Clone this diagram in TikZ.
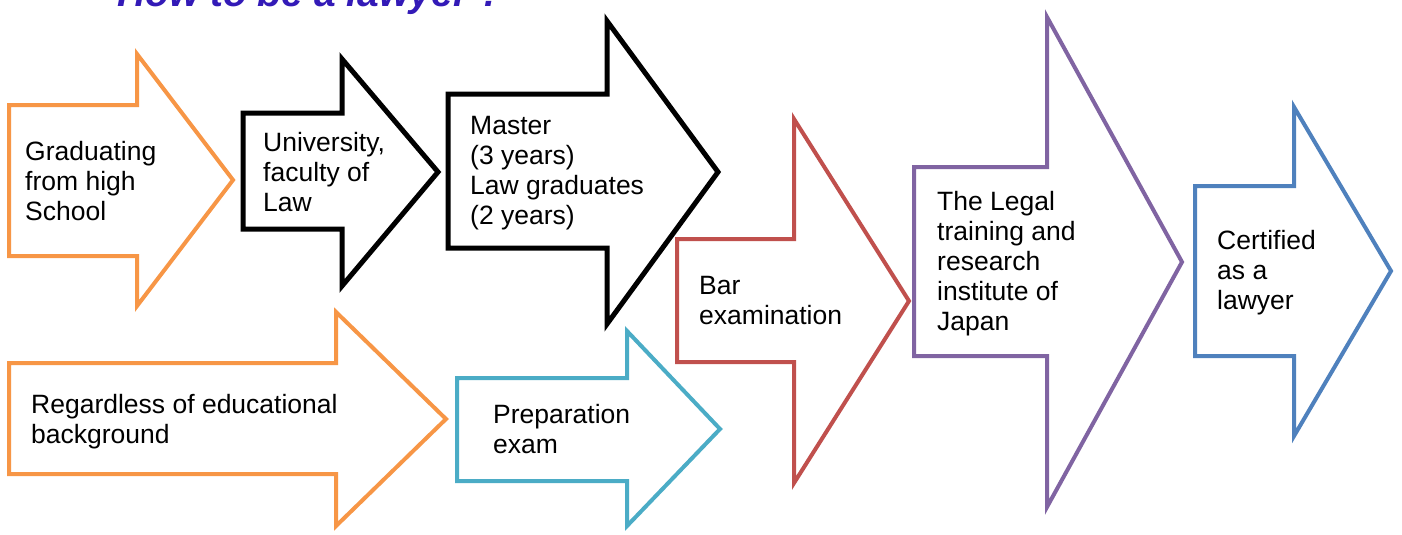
\documentclass[tikz,border=0pt]{standalone}
\usepackage{fontspec}
\setmainfont{Liberation Sans}
\definecolor{cOrange}{HTML}{F79646}
\definecolor{cRed}{HTML}{C0504D}
\definecolor{cPurple}{HTML}{8064A2}
\definecolor{cBlue}{HTML}{4F81BD}
\definecolor{cCyan}{HTML}{4BACC6}
\definecolor{cTitle}{RGB}{51,26,183}
\newcommand{\blkarrow}[9]{\draw[shp,#1] (#2,#3) -- (#5,#3) -- (#5,#6) -- (#8,#9) -- (#5,#7) -- (#5,#4) -- (#2,#4) -- cycle;}
\begin{document}
\begin{tikzpicture}[x=1pt,y=-1pt,
  shp/.style={line width=4pt, fill=white, line join=miter},
  lbl/.style={anchor=base west, inner sep=0pt, align=left, font=\fontsize{26.5}{30}\selectfont}]
\useasboundingbox (0,0) rectangle (1402,535);
\clip (0,0) rectangle (1402,535);
\node[anchor=base west, inner sep=0pt, text=cTitle, font=\fontsize{39}{46}\selectfont\bfseries\itshape] (title) at (117,6.5) {How to be a lawyer ?};
% upper row
\blkarrow{draw=cOrange}{9}{105}{256}{137}{54}{306}{233}{180}
\blkarrow{draw=black,line width=5pt}{243}{113}{229}{342}{59}{286}{438}{172}
\blkarrow{draw=black,line width=5pt}{448}{94}{248}{607}{21}{324}{718}{172}
% lower row
\blkarrow{draw=cOrange}{9}{363}{474}{336}{312}{526}{446}{419}
\blkarrow{draw=cCyan}{457}{378}{481}{627}{331}{526}{720}{429}
% right part
\blkarrow{draw=cRed}{677}{239}{362}{794}{119}{483}{909}{301}
\blkarrow{draw=cPurple}{914}{167}{356}{1047}{17}{507}{1182}{262}
\blkarrow{draw=cBlue}{1195}{186}{356}{1294}{107}{436}{1391}{271}
% labels (anchored at the baseline of the last line)
\node[lbl] (t1) at (25,220) {Graduating\\from high\\School};
\node[lbl] (t2) at (263,211) {University,\\faculty of\\Law};
\node[lbl] (t3) at (470,224) {Master\\(3 years)\\Law graduates\\(2 years)};
\node[lbl] (t4) at (699,324) {Bar\\examination};
\node[lbl] (t5) at (937,330) {The Legal\\training and\\research\\institute of\\Japan};
\node[lbl] (t6) at (1217,309) {Certified\\as a\\lawyer};
\node[lbl] (t7) at (31,443) {Regardless of educational\\background};
\node[lbl] (t8) at (493,453) {Preparation\\exam};
\end{tikzpicture}
\end{document}
